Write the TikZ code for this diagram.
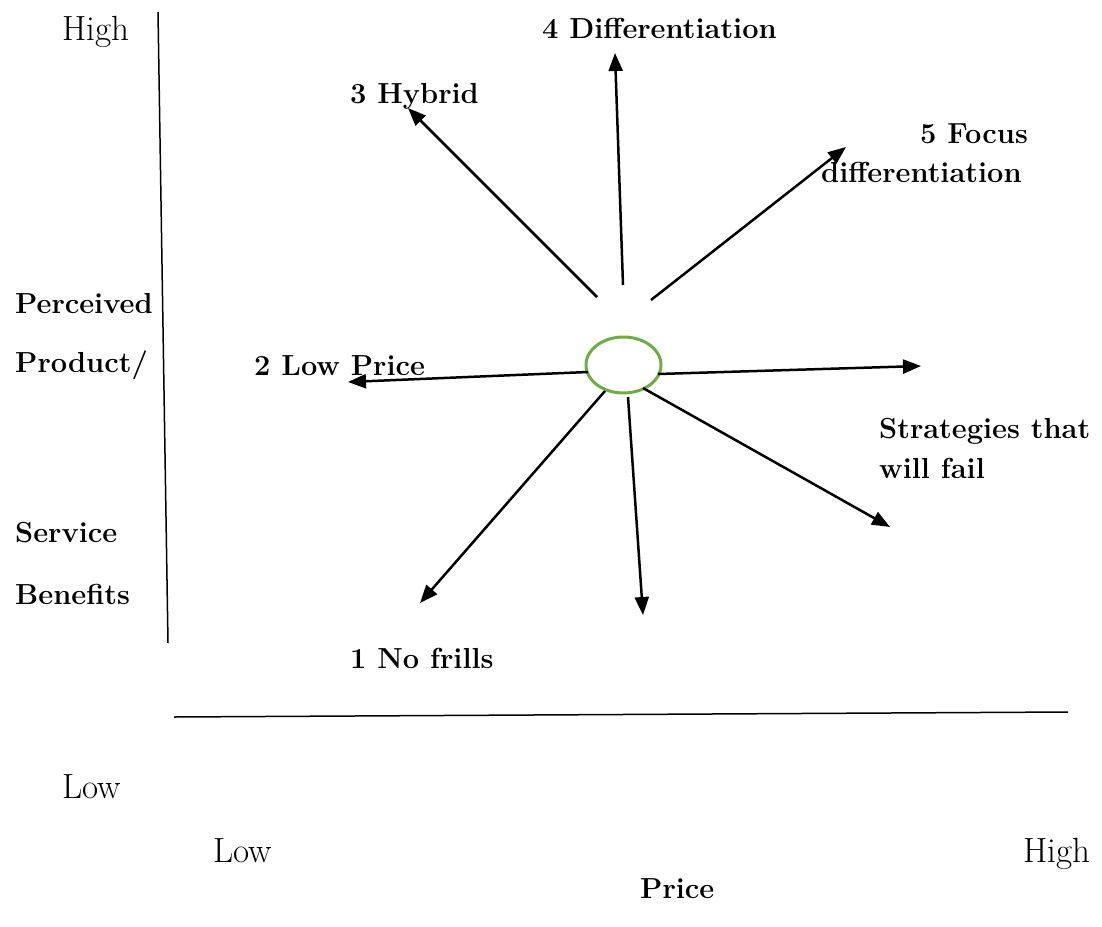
\documentclass[tikz,border=0pt]{standalone}
\usetikzlibrary{arrows.meta,shapes.geometric}
\definecolor{ringgreen}{RGB}{112,173,71}
\begin{document}
\begin{tikzpicture}[x=1pt,y=-1pt,
  lbl/.style={inner sep=0pt,anchor=base west,font=\fontsize{29}{34}\selectfont\bfseries},
  reg/.style={inner sep=0pt,anchor=base west,font=\fontsize{35}{40}\selectfont},
  axis/.style={line width=1.5pt},
  arr/.style={line width=2.5pt,-{Triangle[length=18pt,width=14pt]}}]
\useasboundingbox[fill=white] (0,0) rectangle (1102,926);
% axes
\coordinate (vtop) at (158,12);
\coordinate (vbot) at (168,643);
\coordinate (hl) at (174,717);
\coordinate (hr) at (1068,712);
\draw[axis] (vtop) -- (vbot);
\draw[axis] (hl) -- (hr);
% centre ring
\node[draw=ringgreen,line width=3pt,ellipse,minimum width=75pt,minimum height=56pt,inner sep=0pt] (c) at (623.5,365) {};
% arrow points
\coordinate (s3) at (597,297); \coordinate (e3) at (408,108);
\coordinate (s4) at (623,285); \coordinate (e4) at (615,53);
\coordinate (s5) at (651,300); \coordinate (e5) at (846,147);
\coordinate (s2) at (588,372); \coordinate (e2) at (348,382);
\coordinate (sr) at (658,374); \coordinate (er) at (921,366);
\coordinate (sf) at (643,388); \coordinate (ef) at (890,527);
\coordinate (sd) at (628,397); \coordinate (ed) at (643,615);
\coordinate (s1) at (605,391); \coordinate (e1) at (420,603);
\draw[arr] (s3) -- (e3);
\draw[arr] (s4) -- (e4);
\draw[arr] (s5) -- (e5);
\draw[arr] (s2) -- (e2);
\draw[arr] (sr) -- (er);
\draw[arr] (sf) -- (ef);
\draw[arr] (sd) -- (ed);
\draw[arr] (s1) -- (e1);
% labels
\node[reg] (high) at (62,40) {High};
\node[lbl] (l4) at (542,38) {4 Differentiation};
\node[lbl] (l3) at (350,103) {3 Hybrid};
\node[lbl] (l5a) at (920,143) {5 Focus};
\node[lbl] (l5b) at (821,182) {differentiation};
\node[lbl] (l2) at (254,375) {2 Low Price};
\node[lbl] (lfa) at (879,438) {Strategies that};
\node[lbl] (lfb) at (879,478) {will fail};
\node[lbl] (l1) at (350,668) {1 No frills};
\node[lbl] (p1) at (15,313) {Perceived};
\node[lbl] (p2) at (15,372) {Product/};
\node[lbl] (p3) at (15,542) {Service};
\node[lbl] (p4) at (15,604) {Benefits};
\node[reg] (lowy) at (62,798) {Low};
\node[reg] (lowx) at (213,862) {Low};
\node[reg] (highx) at (1023,862) {High};
\node[lbl] (price) at (640,898) {Price};
\end{tikzpicture}
\end{document}
